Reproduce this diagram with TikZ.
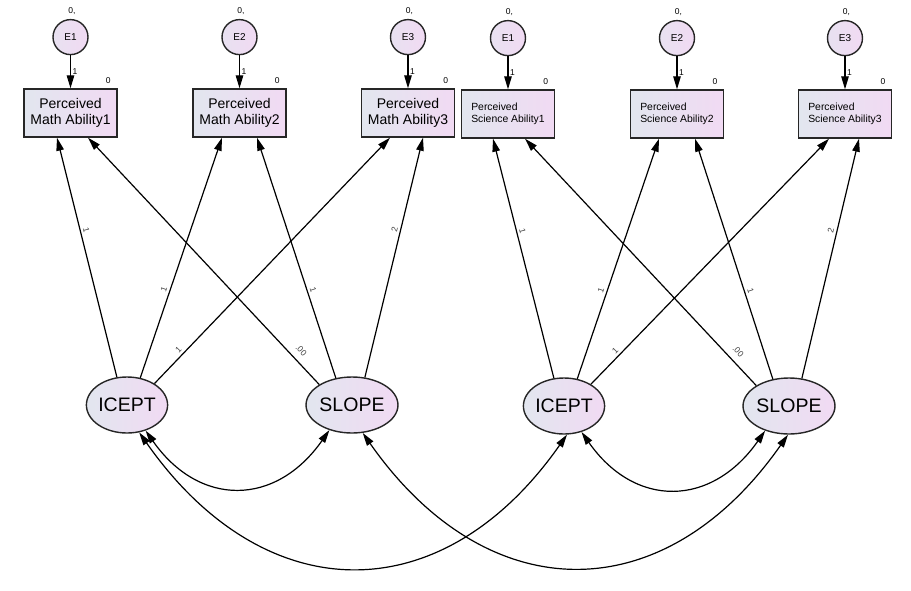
\documentclass[tikz,border=0pt]{standalone}
\usepackage{fontspec}
\setmainfont{Liberation Sans}
\usepackage{tikz}
\usetikzlibrary{
    positioning,
    arrows.meta,
    shapes.geometric
}
\definecolor{shadeleft}{HTML}{E2E6EF}
\definecolor{shaderight}{HTML}{F1DAF3}
\tikzset{
    >={Triangle[length=13pt,width=7.5pt]},
    observed/.style={
        rectangle,
        draw=black!85,
        line width=1.4pt,
        left color=shadeleft,
        right color=shaderight,
        minimum width=93pt,
        minimum height=48pt,
        inner sep=0pt,
        label={[font=\fontsize{8.5}{9}\selectfont, anchor=south,
            label distance=3pt, xshift=-12pt]north east:0}
    },
    mathbox/.style={
        observed,
        align=center,
        font=\fontsize{14}{15.7}\selectfont
    },
    scibox/.style={
        observed,
        align=left,
        font=\fontsize{10.4}{12.3}\selectfont
    },
    error/.style={
        circle,
        draw=black!85,
        line width=1.4pt,
        left color=shadeleft!60!shaderight,
        right color=shaderight,
        minimum size=35pt,
        inner sep=0pt,
        font=\fontsize{10}{11}\selectfont,
        label={[font=\fontsize{8.5}{9}\selectfont,
            label distance=1pt, xshift=1.5pt]above:{0,}}
    },
    latent/.style={
        ellipse,
        draw=black!85,
        line width=1.4pt,
        left color=shadeleft,
        right color=shaderight,
        minimum width=72pt,
        minimum height=56pt,
        inner sep=0pt,
        font=\fontsize{19.5}{22}\selectfont
    },
    weight/.style={
        font=\fontsize{8.5}{9}\selectfont,
        text=black!75,
        sloped,
        above,
        inner sep=2.5pt
    },
    errweight/.style={
        font=\fontsize{8.5}{9}\selectfont,
        right,
        inner sep=1.5pt
    }
}

\begin{document}
\begin{tikzpicture}[
    x=1pt, y=1pt,
    >={Triangle[length=13pt,width=7.5pt]}
]
    \useasboundingbox (0,0) rectangle (911,-590);

    % Math indicators
    \node[mathbox] (m1) at (70.5,-113)  {Perceived\\Math Ability1};
    \node[mathbox] (m2) at (239.5,-113) {Perceived\\Math Ability2};
    \node[mathbox] (m3) at (408,-113)   {Perceived\\Math Ability3};

    % Science indicators
    \node[scibox]  (c1) at (508,-114)   {Perceived\\Science Ability1};
    \node[scibox]  (c2) at (677,-114)   {Perceived\\Science Ability2};
    \node[scibox]  (c3) at (845,-114)   {Perceived\\Science Ability3};

    % Errors
    \node[error, above=33pt of m1] (em1) {E1};
    \node[error, above=33pt of m2] (em2) {E2};
    \node[error, above=33pt of m3] (em3) {E3};
    \node[error, above=33pt of c1] (ec1) {E1};
    \node[error, above=33pt of c2] (ec2) {E2};
    \node[error, above=33pt of c3] (ec3) {E3};

    % Growth factors
    \node[latent]                     (i1) at (127,-405) {ICEPT};
    \node[latent, minimum width=81pt] (s1) at (352,-405) {SLOPE};
    \node[latent]                     (i2) at (564,-406) {ICEPT};
    \node[latent, minimum width=81pt] (s2) at (789,-406) {SLOPE};

    % Errors -> indicators
    \path[->, line width=1.2pt]
        (em1) edge node[errweight] {1} (m1)
        (em2) edge node[errweight] {1} (m2)
        (em3) edge node[errweight] {1} (m3)
        (ec1) edge node[errweight] {1} (c1)
        (ec2) edge node[errweight] {1} (c2)
        (ec3) edge node[errweight] {1} (c3);

    % Loadings, math
    \path[->, line width=1.2pt]
        (i1.110)
            edge node[weight, pos=0.61] {1} ([xshift=-13.5pt]m1.south)
        (i1.64)
            edge node[weight, pos=0.36] {1} ([xshift=-17.5pt]m2.south)
        (i1.38)
            edge node[weight, pos=0.12] {1} ([xshift=-18pt]m3.south)
        (s1.148)
            edge node[weight, pos=0.11, above=4pt] {.00} ([xshift=17.5pt]m1.south)
        (s1.121)
            edge node[weight, pos=0.36] {1} ([xshift=17.5pt]m2.south)
        (s1.65)
            edge node[weight, pos=0.61] {2} ([xshift=15pt]m3.south);

    % Loadings, science
    \path[->, line width=1.2pt]
        (i2.110)
            edge node[weight, pos=0.61] {1} ([xshift=-15pt]c1.south)
        (i2.64)
            edge node[weight, pos=0.36] {1} ([xshift=-18pt]c2.south)
        (i2.39)
            edge node[weight, pos=0.12] {1} ([xshift=-16pt]c3.south)
        (s2.148)
            edge node[weight, pos=0.11, above=4pt] {.00} ([xshift=17pt]c1.south)
        (s2.121)
            edge node[weight, pos=0.36] {1} ([xshift=18pt]c2.south)
        (s2.65)
            edge node[weight, pos=0.61] {2} ([xshift=14pt]c3.south);

    % Covariances
    \path[<->, line width=1.2pt]
        (i1.-54) edge[out=-55, in=-125, looseness=1.3] (s1.-132)
        (i2.-56) edge[out=-55, in=-125, looseness=1.3] (s2.-134)
        (i1.-66) edge[out=-55, in=-125, looseness=1.3] (i2.-84)
        (s1.-69) edge[out=-55, in=-125, looseness=1.3] (s2.-92);

\end{tikzpicture}
\end{document}
